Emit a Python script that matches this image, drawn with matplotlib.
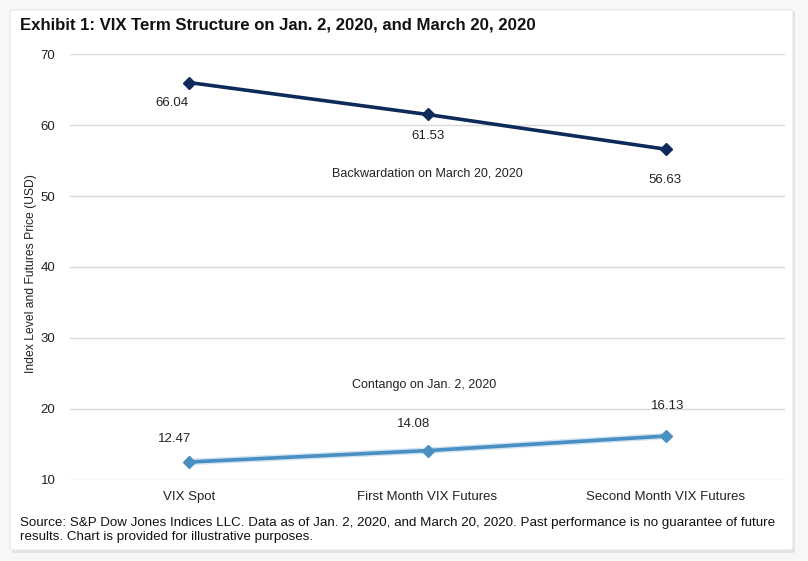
import matplotlib
matplotlib.use("Agg")
import matplotlib.pyplot as plt
from matplotlib.patches import FancyBboxPatch

plt.rcParams['font.family'] = ['Liberation Sans', 'DejaVu Sans']

categories = ["VIX Spot", "First Month VIX Futures", "Second Month VIX Futures"]
backwardation = [66.04, 61.53, 56.63]
contango = [12.47, 14.08, 16.13]
yticks = [10, 20, 30, 40, 50, 60, 70]

W, H = 808, 561
fig = plt.figure(figsize=(W / 100, H / 100), dpi=100)
fig.patch.set_facecolor("#f7f7f7")

# card background with faint shadow
shadow = FancyBboxPatch((12 / W, 1 - 553 / H), 783 / W, 542 / H,
                        boxstyle="round,pad=0,rounding_size=0.004",
                        transform=fig.transFigure, facecolor="#e2e2e2",
                        edgecolor="none", zorder=-2)
card = FancyBboxPatch((10 / W, 1 - 550 / H), 783 / W, 540 / H,
                      boxstyle="round,pad=0,rounding_size=0.004",
                      transform=fig.transFigure, facecolor="white",
                      edgecolor="#e6e6e6", linewidth=0.8, zorder=-1)
fig.patches.extend([shadow, card])

ax = fig.add_axes([70 / W, 1 - 480 / H, 715 / W, 426 / H])
ax.set_zorder(1)
ax.set_facecolor("none")
x = list(range(len(categories)))

ax.set_xlim(-0.5, len(categories) - 0.5)
ax.set_ylim(9.93, 70.07)
ax.set_yticks(yticks)
ax.set_xticks(x)
ax.set_xticklabels(categories)
ax.grid(axis="y", color="#d9d9d9", linewidth=1)
ax.set_axisbelow(True)
for s in ax.spines.values():
    s.set_visible(False)
ax.tick_params(length=0, labelsize=9.5, colors="#222222")
ax.tick_params(axis="y", pad=10.5)
ax.tick_params(axis="x", pad=7.7)
ax.set_ylabel("Index Level and Futures Price (USD)", fontsize=8.7, color="#222222")
ax.yaxis.set_label_coords(-33 / 715, (480 - 274) / 426)

dark = "#0e2a5a"
light = "#4a8fc2"

ax.plot(x, backwardation, color=dark, linewidth=2.6, marker="D", markersize=6.5, zorder=3)
ax.plot(x, contango, color="#cfe3f2", linewidth=4.6, solid_capstyle="round", zorder=2)
ax.plot(x, contango, color=light, linewidth=2.6, marker="D", markersize=6.5, zorder=3)

b_off = [(-17, -20), (0, -22), (-1, -31)]
c_off = [(-15, 23), (-14, 27), (2, 30)]
for xi, v, o in zip(x, backwardation, b_off):
    ax.annotate(f"{v:.2f}", (xi, v), xytext=o, textcoords="offset pixels",
                ha="center", va="center", fontsize=9.5, color="#222222")
for xi, v, o in zip(x, contango, c_off):
    ax.annotate(f"{v:.2f}", (xi, v), xytext=o, textcoords="offset pixels",
                ha="center", va="center", fontsize=9.5, color="#222222")

ax.text(1, 53.2, "Backwardation on March 20, 2020", ha="center", va="center",
        fontsize=9, color="#222222")
ax.text(0.985, 23.4, "Contango on Jan. 2, 2020", ha="center", va="center",
        fontsize=9, color="#222222")

fig.text(20 / W, 1 - 25 / H, "Exhibit 1: VIX Term Structure on Jan. 2, 2020, and March 20, 2020",
         ha="left", va="center", fontsize=12.1, fontweight="bold", color="#111111")
fig.text(20 / W, 1 - 530 / H,
         "Source: S&P Dow Jones Indices LLC. Data as of Jan. 2, 2020, and March 20, 2020. Past performance is no guarantee of future\nresults. Chart is provided for illustrative purposes.",
         ha="left", va="center", fontsize=9.6, color="#111111", linespacing=1.15)

fig.savefig("out.png", dpi=100, facecolor=fig.get_facecolor())
